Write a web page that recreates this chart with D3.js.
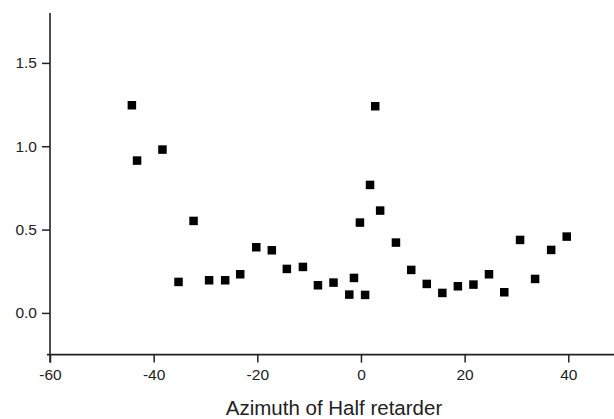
<!DOCTYPE html>
<html>
<head>
<meta charset="utf-8">
<script src="https://cdn.jsdelivr.net/npm/d3@7"></script>
<style>
  html, body { margin: 0; padding: 0; background: #fff; }
  svg { display: block; }
  text { font-family: Arial, "Liberation Sans", sans-serif; fill: #222; }
</style>
</head>
<body>
<svg id="chart" width="614" height="419"></svg>
<script>
// Azimuth of the half retarder (degrees)
const azimuth = [-44.2, -43.2, -38.3, -35.2, -32.3, -29.3, -26.2, -23.3, -20.2, -17.2,
                 -14.3, -11.2, -8.3, -5.3, -2.25, -1.35, -0.2, 0.8, 1.75, 2.75,
                 3.7, 6.75, 9.7, 12.7, 15.7, 18.7, 21.7, 24.7, 27.65, 30.7,
                 33.6, 36.7, 39.7];
// Measured values
const values = [1.246, 0.914, 0.980, 0.186, 0.552, 0.196, 0.196, 0.232, 0.394, 0.376,
                0.264, 0.276, 0.166, 0.182, 0.110, 0.210, 0.542, 0.108, 0.768, 1.240,
                0.614, 0.422, 0.258, 0.174, 0.120, 0.160, 0.170, 0.232, 0.124, 0.438,
                0.204, 0.378, 0.458];

const xMajorTicks = [-60, -40, -20, 0, 20, 40];
const xMinorTicks = [-50, -30, -10, 10, 30, 50];
const yMajorTicks = [0.0, 0.5, 1.0, 1.5];
const yMinorTicks = [0.25, 0.75, 1.25, 1.75];
const xTitle = "Azimuth of Half retarder";

const svg = d3.select("#chart");

const x = d3.scaleLinear().domain([-60, 50]).range([50, 620.1]);
const y = d3.scaleLinear().domain([-0.25, 1.8]).range([354.6, 12.9]);

const axisColor = "#222";
const labelFont = "Arial, 'Liberation Sans', sans-serif";
const fmtY = d3.format(".1f");

// X axis: minor ticks, then major ticks with labels
const gx = svg.append("g").attr("transform", `translate(0,${y(-0.25)})`);
gx.call(d3.axisBottom(x).tickValues(xMinorTicks).tickSize(4).tickFormat(""))
  .call(g => g.select(".domain").remove());
gx.call(d3.axisBottom(x).tickValues(xMajorTicks).tickSize(8).tickSizeOuter(0).tickPadding(6)
        .tickFormat(d => d))
  .call(g => g.selectAll("text").attr("font-size", 15.5).style("font-family", labelFont));
gx.selectAll("line").attr("stroke", axisColor).attr("stroke-width", 1.5);
gx.selectAll(".domain").attr("stroke", axisColor).attr("stroke-width", 1.6)
  .attr("d", `M${x(-60) - 3},0H${x(50)}`);

// Y axis: minor ticks, then major ticks with labels
const gy = svg.append("g").attr("transform", `translate(${x(-60)},0)`);
gy.call(d3.axisLeft(y).tickValues(yMinorTicks).tickSize(4).tickFormat(""))
  .call(g => g.select(".domain").remove());
gy.call(d3.axisLeft(y).tickValues(yMajorTicks).tickSize(8).tickSizeOuter(0).tickPadding(5)
        .tickFormat(fmtY))
  .call(g => g.selectAll("text").attr("font-size", 15.5).style("font-family", labelFont));
gy.selectAll("line").attr("stroke", axisColor).attr("stroke-width", 1.5);
gy.selectAll(".domain").attr("stroke", axisColor).attr("stroke-width", 1.6)
  .attr("d", `M0,${y(1.8)}V${y(-0.25) + 8}`);
svg.selectAll(".tick text").attr("fill", "#222");

// Data points as filled squares
const size = 8.5;
svg.append("g").selectAll("rect")
  .data(azimuth.map((a, i) => ({ a, v: values[i] })))
  .join("rect")
  .attr("x", d => x(d.a) - size / 2)
  .attr("y", d => y(d.v) - size / 2)
  .attr("width", size)
  .attr("height", size)
  .attr("fill", "#000");

// Axis title
svg.append("text")
  .attr("x", 334)
  .attr("y", 415)
  .attr("text-anchor", "middle")
  .attr("font-size", 20.5)
  .text(xTitle);
</script>
</body>
</html>
